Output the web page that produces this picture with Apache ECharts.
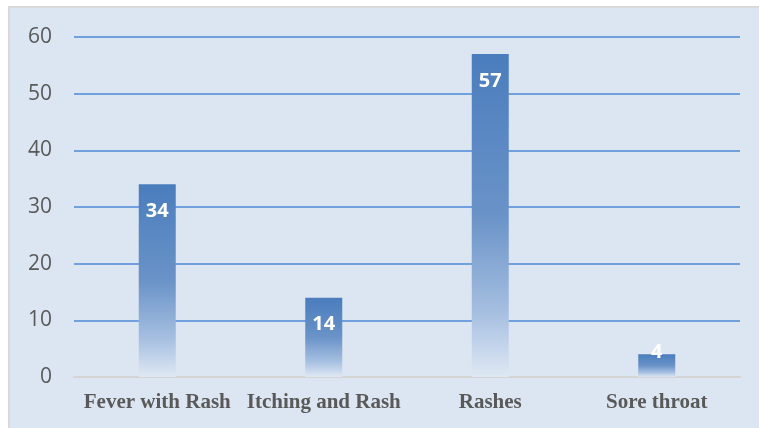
<!DOCTYPE html>
<html>
<head>
<meta charset="utf-8">
<script src="https://cdn.jsdelivr.net/npm/echarts@6/dist/echarts.min.js"></script>
<style>
  html, body { margin: 0; padding: 0; background: #fff; }
  #main { width: 759px; height: 428px; }
</style>
</head>
<body>
<div id="main"></div>
<script>
var categories = ['Fever with Rash', 'Itching and Rash', 'Rashes', 'Sore throat'];
var counts = [34, 14, 57, 4];
var yTicks = [0, 10, 20, 30, 40, 50, 60];

var myChart = echarts.init(document.getElementById('main'));

var barData = counts.map(function (v) {
    if (v < 8) {
        // too short for an inside label, sits on the top edge
        return { value: v, label: { distance: -12 } };
    }
    return v;
});

var option = {
    backgroundColor: '#fff',
    animation: false,
    graphic: [{
        type: 'rect',
        z: -10,
        silent: true,
        shape: { x: 9, y: 7, width: 760, height: 430 },
        style: { fill: '#dce6f2', stroke: '#d9d9d9', lineWidth: 2 }
    }],
    grid: { left: 74, right: 19, top: 37, bottom: 51, containLabel: false },
    xAxis: {
        type: 'category',
        data: categories,
        axisLine: { lineStyle: { color: '#d4d4d4', width: 2 } },
        axisTick: { show: false },
        axisLabel: {
            interval: 0,
            margin: 15,
            color: '#595959',
            fontFamily: 'Liberation Serif',
            fontWeight: 'bold',
            fontSize: 21
        }
    },
    yAxis: {
        type: 'value',
        min: yTicks[0],
        max: yTicks[yTicks.length - 1],
        interval: 10,
        axisLine: { show: false },
        axisTick: { show: false },
        axisLabel: {
            margin: 22,
            color: '#595959',
            fontFamily: 'Open Sans',
            fontSize: 21
        },
        splitLine: { lineStyle: { color: '#4e88d9', width: 1.5 } }
    },
    series: [{
        type: 'bar',
        data: barData,
        barWidth: 37,
        itemStyle: {
            color: new echarts.graphic.LinearGradient(0, 0, 0, 1, [
                { offset: 0, color: '#4a7dbd' },
                { offset: 0.5, color: '#6a93c8' },
                { offset: 0.8, color: '#a5bfe0' },
                { offset: 1, color: '#dfe8f4' }
            ])
        },
        label: {
            show: true,
            position: 'insideTop',
            distance: 17,
            color: '#fff',
            fontFamily: 'Open Sans',
            fontWeight: 'bold',
            fontSize: 20
        }
    }]
};

myChart.setOption(option);
</script>
</body>
</html>
